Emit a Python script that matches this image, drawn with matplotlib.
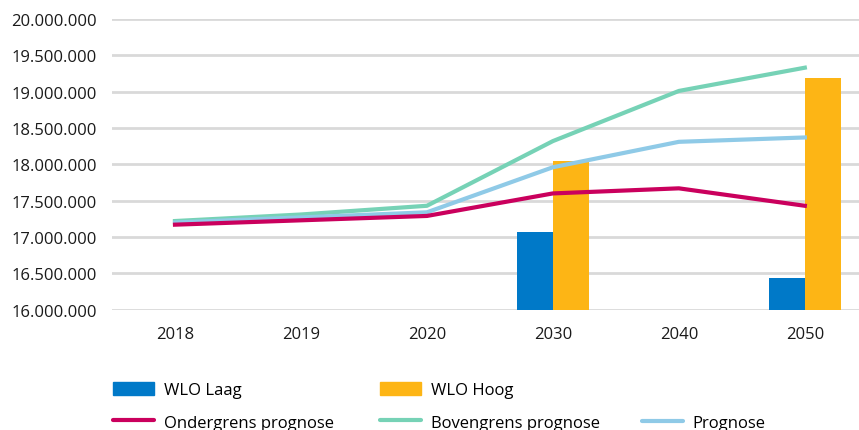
import numpy as np
import matplotlib.pyplot as plt
from matplotlib.ticker import FuncFormatter
from matplotlib.patches import Patch
from matplotlib.lines import Line2D

plt.rcParams['font.family'] = ['Open Sans', 'DejaVu Sans']

# Data
years = ['2018', '2019', '2020', '2030', '2040', '2050']
wlo_laag = [np.nan, np.nan, np.nan, 17070000, np.nan, 16430000]
wlo_hoog = [np.nan, np.nan, np.nan, 18040000, np.nan, 19190000]
ondergrens = [17170000, 17230000, 17290000, 17600000, 17670000, 17430000]
bovengrens = [17220000, 17310000, 17430000, 18320000, 19010000, 19330000]
prognose = [17200000, 17270000, 17340000, 17960000, 18310000, 18370000]
yticks = np.arange(16000000, 20000001, 500000)

# Colors
c_laag = '#0079C8'
c_hoog = '#FDB515'
c_onder = '#CA005D'
c_boven = '#76D2B6'
c_prog = '#8FCAE7'

fig = plt.figure(figsize=(8.59, 4.31), dpi=100)
ax = fig.add_axes([112/859, 1 - 310.7/431, 747/859, 290.7/431])

x = np.arange(len(years))
w = 0.286
ax.bar(x - w/2, wlo_laag, width=w, color=c_laag, zorder=2)
ax.bar(x + w/2, wlo_hoog, width=w, color=c_hoog, zorder=2)

ax.plot(x, bovengrens, color=c_boven, linewidth=3, zorder=3)
ax.plot(x, prognose, color=c_prog, linewidth=3, zorder=3)
ax.plot(x, ondergrens, color=c_onder, linewidth=3, zorder=3)

ax.set_ylim(16000000, 20000000)
ax.set_xlim(-0.5, 5.43)
ax.set_yticks(yticks)
ax.yaxis.set_major_formatter(FuncFormatter(lambda v, p: f"{int(v):,}".replace(',', '.')))
ax.set_xticks(x)
ax.set_xticklabels(years)
ax.tick_params(axis='both', length=0, labelsize=12, colors='#1a1a1a')
ax.tick_params(axis='y', pad=11)
ax.tick_params(axis='x', pad=12)
ax.grid(axis='y', color='#D9D9D9', linewidth=2, zorder=0)
ax.set_axisbelow(True)
for s in ax.spines.values():
    s.set_visible(False)

# Legend, three columns placed by hand
leg_kw = dict(loc='upper left', frameon=False, fontsize=12, borderpad=0,
              handlelength=2.45, handleheight=0.85, handletextpad=0.6,
              labelspacing=0.95, borderaxespad=0)
col1 = [Patch(color=c_laag, label='WLO Laag'),
        Line2D([], [], color=c_onder, linewidth=3, solid_capstyle='round', label='Ondergrens prognose')]
col2 = [Patch(color=c_hoog, label='WLO Hoog'),
        Line2D([], [], color=c_boven, linewidth=3, solid_capstyle='round', label='Bovengrens prognose')]
col3 = [Line2D([], [], color=c_prog, linewidth=3, solid_capstyle='round', label='Prognose')]

fig.legend(handles=col1, bbox_to_anchor=(113/859, 1 - 383/431), **leg_kw)
fig.legend(handles=col2, bbox_to_anchor=(380/859, 1 - 383/431), **leg_kw)
fig.legend(handles=col3, bbox_to_anchor=(642/859, 1 - 416/431), **leg_kw)

plt.savefig('out.png', dpi=100)
